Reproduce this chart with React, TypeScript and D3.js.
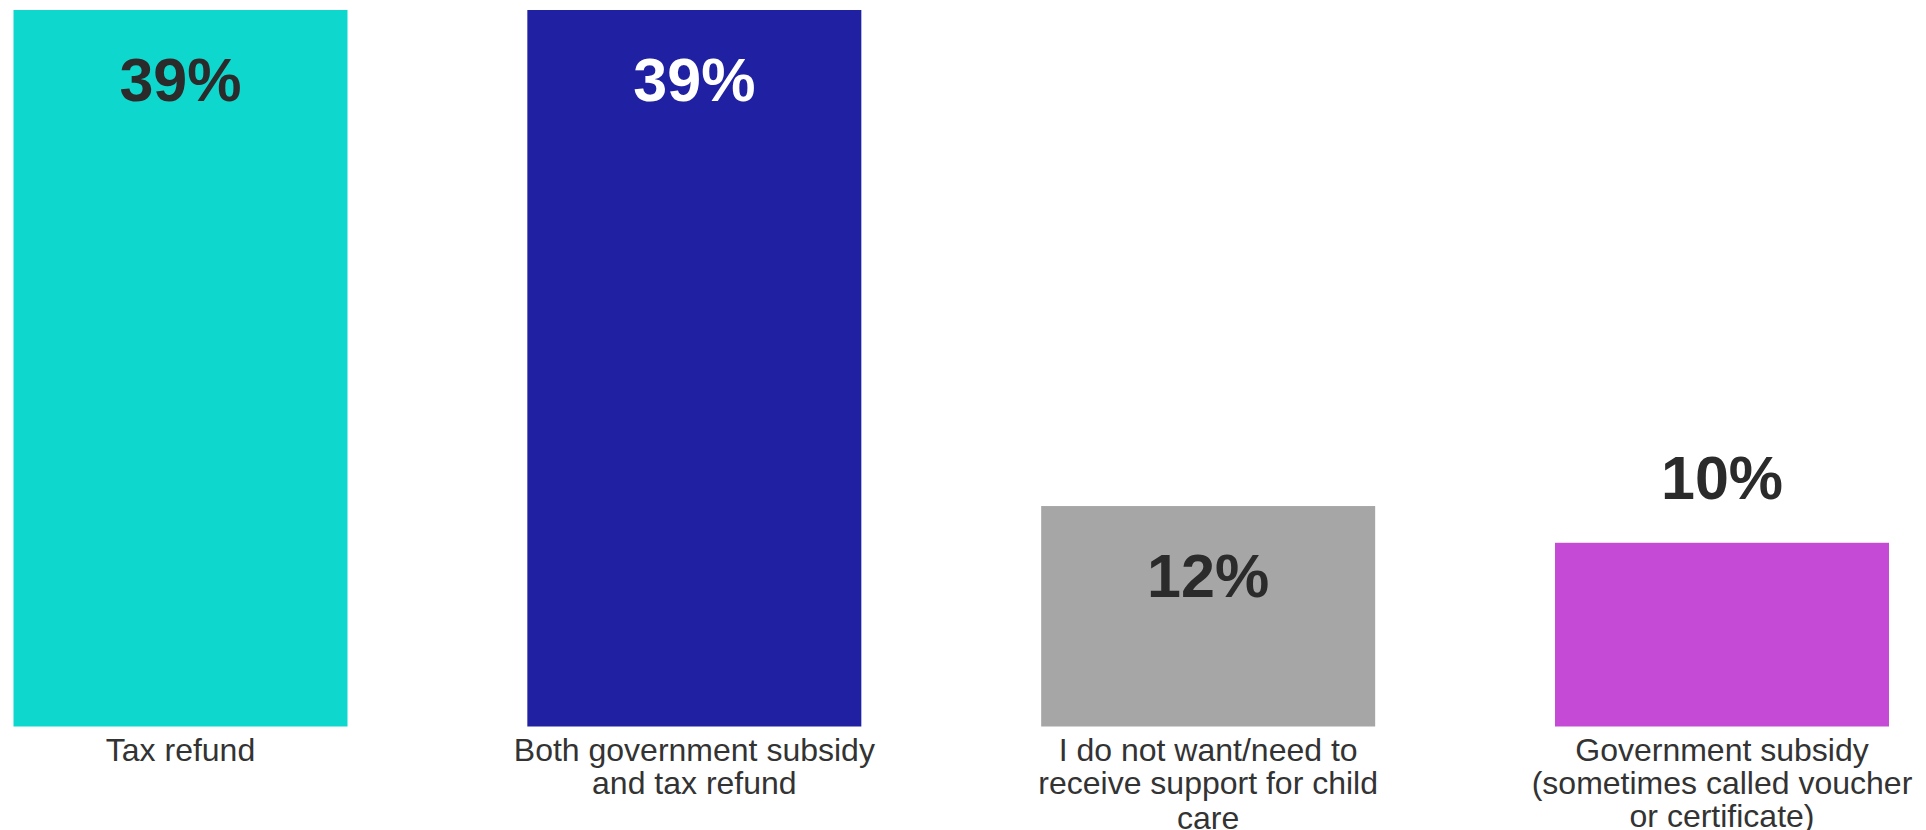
import React from "react";
import * as d3 from "d3";

const categories = ["Tax refund", "Both government subsidy and tax refund", "I do not want/need to receive support for child care", "Government subsidy (sometimes called voucher or certificate)"];
const categoryLines = [
  ["Tax refund"],
  ["Both government subsidy", "and tax refund"],
  ["I do not want/need to", "receive support for child", "care"],
  ["Government subsidy", "(sometimes called voucher", "or certificate)"],
];
const values = [39, 39, 12, 10];
const valueLabels = ["39%", "39%", "12%", "10%"];
const colors = ["#0ED7CD", "#2020A3", "#A6A6A6", "#C54BD6"];
const labelColors = ["#2b2b2b", "#ffffff", "#2b2b2b", "#2b2b2b"];

const W = 1926;
const H = 830;
const FONT = "'Liberation Sans', Arial, Helvetica, sans-serif";

export default function App() {
  const x = d3.scaleBand<string>().domain(categories).range([13.5, 1889]).paddingInner(0.35).paddingOuter(0);
  const y = d3.scaleLinear().domain([0, 39]).range([726.5, 10]);
  const bw = x.bandwidth();

  return (
    <svg width={W} height={H} style={{ position: "absolute", left: 0, top: 0, display: "block", background: "#fff" }} fontFamily={FONT}>
      {categories.map((c, i) => {
        const x0 = x(c)!;
        const yTop = y(values[i]);
        const h = y(0) - yTop;
        const cx = x0 + bw / 2;
        const inside = h > 200;
        const labelY = inside ? yTop + 91 : yTop - 44;
        return (
          <g key={c}>
            <rect x={x0} y={yTop} width={bw} height={h} fill={colors[i]} />
            <text x={cx} y={labelY} textAnchor="middle" fontSize={61} fontWeight="bold" fill={inside ? labelColors[i] : "#2b2b2b"}>
              {valueLabels[i]}
            </text>
            <text x={cx} y={761} textAnchor="middle" fontSize={32} fill="#333">
              {categoryLines[i].map((ln, j) => (
                <tspan key={j} x={cx} y={761 + j * 33 + (i === 2 && j === 2 ? 2 : 0)}>{ln}</tspan>
              ))}
            </text>
          </g>
        );
      })}
    </svg>
  );
}
